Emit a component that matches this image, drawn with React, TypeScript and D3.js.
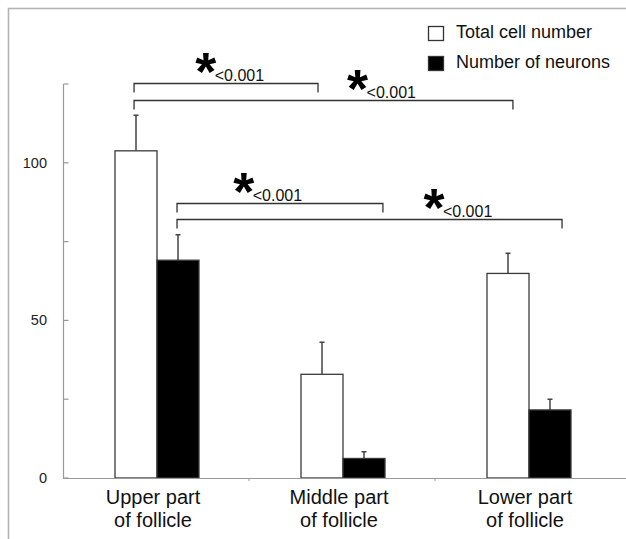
import React, { useEffect, useRef } from 'react';
import * as d3 from 'd3';

// categories (two-line labels)
const categories = ['Upper', 'Middle', 'Lower'];
const categoryLines = [
  ['Upper part', 'of follicle'],
  ['Middle part', 'of follicle'],
  ['Lower part', 'of follicle'],
];
const series = ['Total cell number', 'Number of neurons'];
const seriesFill = ['#ffffff', '#000000'];

// values
const totalCells = [103.8, 32.9, 64.9];
const totalCellsErr = [11.3, 10.2, 6.4];
const neurons = [69.1, 6.2, 21.6];
const neuronsErr = [8.1, 2.1, 3.4];

const yTicks = [0, 25, 50, 75, 100, 125];
const yTickLabels = [0, 50, 100];

// significance brackets: endpoints as category + fraction across the category band
const brackets = [
  { from: 'Upper', fromFrac: 0.382, to: 'Middle', toFrac: 0.371, level: 125.2, labelAt: 0.433 },
  { from: 'Upper', fromFrac: 0.382, to: 'Lower', toFrac: 0.419, level: 119.9, labelAt: 0.611 },
  { from: 'Upper', fromFrac: 0.613, to: 'Middle', toFrac: 0.72, level: 87.3, labelAt: 0.363 },
  { from: 'Upper', fromFrac: 0.613, to: 'Lower', toFrac: 0.683, level: 82.2, labelAt: 0.688 },
];
const pLabel = '<0.001';

const FONT = '"Liberation Sans", Arial, sans-serif';

const App = () => {
  const svgRef = useRef<SVGSVGElement>(null);

  useEffect(() => {
    const width = 626;
    const height = 539;
    const svg = d3.select(svgRef.current);
    svg.selectAll('*').remove();
    svg.attr('width', width).attr('height', height);

    // outer frame
    svg.append('rect')
      .attr('x', 8.5).attr('y', 8.5)
      .attr('width', 700).attr('height', 600)
      .attr('fill', 'none')
      .attr('stroke', '#b4b4b4')
      .attr('stroke-width', 1.6);

    const y = d3.scaleLinear().domain([0, 125]).range([478, 84]);
    const x0 = d3.scaleBand().domain(categories).range([63, 621]).padding(0);
    const barW = 42;
    const x1 = d3.scaleBand().domain(series)
      .range([x0.bandwidth() / 2 - barW + 1, x0.bandwidth() / 2 + barW + 1]);

    // y axis
    const axisX = 63.5;
    svg.append('line')
      .attr('x1', axisX).attr('x2', axisX)
      .attr('y1', y(125)).attr('y2', y(0))
      .attr('stroke', '#999').attr('stroke-width', 1.2);
    svg.selectAll('.ytick')
      .data(yTicks)
      .enter()
      .append('line')
      .attr('x1', axisX).attr('x2', axisX + 5)
      .attr('y1', d => y(d)).attr('y2', d => y(d))
      .attr('stroke', '#999').attr('stroke-width', 1.2);
    svg.selectAll('.ylabel')
      .data(yTickLabels)
      .enter()
      .append('text')
      .attr('x', 47).attr('y', d => y(d) + 5)
      .attr('text-anchor', 'end')
      .attr('font-family', FONT).attr('font-size', 14.5)
      .attr('fill', '#222')
      .text(d => d);

    // bars
    const data = categories.map((c, i) => ({
      cat: c,
      vals: [
        { s: series[0], v: totalCells[i], e: totalCellsErr[i], fill: seriesFill[0] },
        { s: series[1], v: neurons[i], e: neuronsErr[i], fill: seriesFill[1] },
      ],
    }));

    const groups = svg.selectAll('.grp')
      .data(data)
      .enter()
      .append('g')
      .attr('transform', d => `translate(${x0(d.cat)},0)`);

    // error bars
    groups.selectAll('.err')
      .data(d => d.vals)
      .enter()
      .append('path')
      .attr('d', d => {
        const cx = (x1(d.s) as number) + x1.bandwidth() / 2;
        const top = y(d.v + d.e);
        return `M${cx},${y(d.v)}V${top}M${cx - 2.5},${top}H${cx + 2.5}`;
      })
      .attr('fill', 'none')
      .attr('stroke', '#444')
      .attr('stroke-width', 1.5);

    groups.selectAll('.bar')
      .data(d => d.vals)
      .enter()
      .append('rect')
      .attr('x', d => x1(d.s) as number)
      .attr('y', d => y(d.v))
      .attr('width', x1.bandwidth())
      .attr('height', d => y(0) - y(d.v))
      .attr('fill', d => d.fill)
      .attr('stroke', '#3a3a3a')
      .attr('stroke-width', 1.3);

    // x axis
    svg.append('line')
      .attr('x1', 63).attr('x2', width)
      .attr('y1', y(0) + 0.5).attr('y2', y(0) + 0.5)
      .attr('stroke', '#999').attr('stroke-width', 1.2);
    svg.selectAll('.xtick')
      .data(categories.slice(1))
      .enter()
      .append('line')
      .attr('x1', d => x0(d) as number).attr('x2', d => x0(d) as number)
      .attr('y1', y(0)).attr('y2', y(0) + 3)
      .attr('stroke', '#999');

    // category labels
    const lbl = svg.selectAll('.xlabel')
      .data(categories)
      .enter()
      .append('text')
      .attr('text-anchor', 'middle')
      .attr('font-family', FONT).attr('font-size', 20)
      .attr('fill', '#111');
    lbl.each(function (d, i) {
      const cx = (x0(d) as number) + x0.bandwidth() / 2 - 3;
      categoryLines[i].forEach((line, k) => {
        d3.select(this).append('tspan')
          .attr('x', cx)
          .attr('y', 504 + k * 23)
          .text(line);
      });
    });

    // significance brackets
    brackets.forEach(b => {
      const xa = (x0(b.from) as number) + b.fromFrac * x0.bandwidth();
      const xb = (x0(b.to) as number) + b.toFrac * x0.bandwidth();
      const by = Math.round(y(b.level)) + 0.5;
      svg.append('path')
        .attr('d', `M${xa},${by + 9}V${by}H${xb}V${by + 9}`)
        .attr('fill', 'none')
        .attr('stroke', '#333')
        .attr('stroke-width', 1.3);
      const tx = xa + b.labelAt * (xb - xa);
      svg.append('text')
        .attr('x', tx + 1).attr('y', by - 3)
        .attr('font-family', FONT).attr('font-size', 16)
        .attr('fill', '#111')
        .text(pLabel);
      svg.append('text')
        .attr('x', tx - 8).attr('y', by + 6)
        .attr('text-anchor', 'middle')
        .attr('font-family', FONT).attr('font-size', 54)
        .attr('font-weight', 'bold')
        .attr('fill', '#000')
        .text('*');
    });

    // legend
    series.forEach((s, i) => {
      svg.append('rect')
        .attr('x', 428.5).attr('y', 26.5 + i * 30)
        .attr('width', 15).attr('height', 14)
        .attr('fill', seriesFill[i])
        .attr('stroke', '#333').attr('stroke-width', 1.3);
      svg.append('text')
        .attr('x', 456).attr('y', 38 + i * 30)
        .attr('font-family', FONT).attr('font-size', 18)
        .attr('fill', '#111')
        .text(s);
    });
  }, []);

  return (
    <svg
      ref={svgRef}
      style={{ position: 'absolute', left: 0, top: 0, display: 'block', background: '#fff' }}
    ></svg>
  );
};

export default App;
